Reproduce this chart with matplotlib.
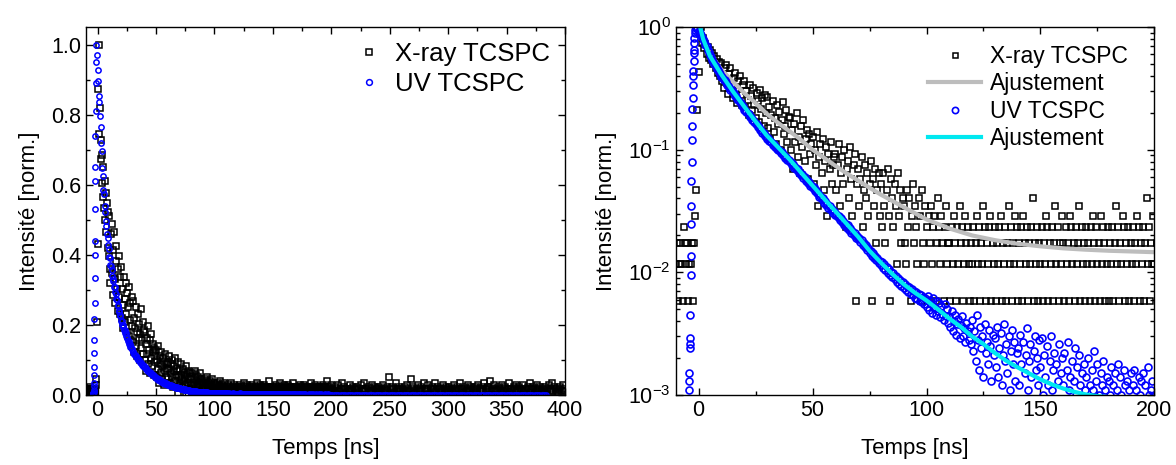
import numpy as np
import matplotlib
matplotlib.use('Agg')
import matplotlib.pyplot as plt
from matplotlib.ticker import MultipleLocator, FormatStrFormatter, LogLocator, NullFormatter

plt.rcParams['font.family'] = ['Liberation Sans', 'DejaVu Sans']
plt.rcParams['mathtext.fontset'] = 'custom'
plt.rcParams['mathtext.rm'] = 'Liberation Sans'
plt.rcParams['mathtext.it'] = 'Liberation Sans:italic'
plt.rcParams['mathtext.default'] = 'regular'

# ---- X-ray TCSPC : counts per bin (peak = 172 counts) ----
xray_peak = 172
# t = -10 ... 200 ns, bins of 0.5 ns
xray_counts_a = [
    2, 3, 1, 2, 3, 2, 1, 4, 3, 2, 3, 1, 2, 2, 3, 1, 3, 5, 8, 36,
    74, 150, 172, 128, 141, 116, 125, 104, 118, 97, 112, 92, 105, 86, 99, 80, 94, 72, 90, 68,
    88, 62, 55, 79, 84, 60, 49, 71, 80, 57, 45, 66, 73, 52, 41, 62, 68, 48, 40, 58,
    63, 38, 52, 44, 33, 58, 47, 36, 55, 40, 31, 50, 43, 29, 53, 37, 45, 27, 48, 34,
    46, 26, 38, 21, 33, 43, 24, 31, 19, 40, 28, 35, 17, 30, 42, 23, 27, 36, 20, 32,
    31, 17, 25, 12, 28, 20, 34, 15, 22, 11, 27, 18, 30, 14, 21, 25, 10, 23, 16, 19,
    22, 9, 17, 13, 24, 6, 15, 19, 11, 21, 8, 14, 18, 5, 16, 12, 20, 9, 13, 15,
    16, 8, 13, 19, 6, 11, 15, 9, 17, 4, 12, 14, 7, 18, 10, 5, 13, 16, 1, 9,
    12, 6, 10, 15, 4, 8, 13, 7, 11, 5, 9, 14, 1, 10, 6, 12, 3, 8, 11, 5,
    9, 4, 11, 6, 3, 8, 12, 5, 1, 10, 7, 4, 9, 6, 2, 11, 5, 8, 3, 7,
    6, 3, 2, 8, 4, 7, 1, 5, 9, 3, 6, 4, 2, 7, 5, 1, 8, 3, 2, 6,
    4, 1, 5, 3, 6, 2, 4, 5, 1, 3, 7, 4, 2, 5, 3, 1, 4, 6, 2, 3,
    3, 1, 4, 2, 5, 3, 1, 4, 2, 6, 3, 4, 1, 2, 5, 3, 4, 2, 1, 3,
    2, 4, 1, 3, 5, 2, 4, 1, 3, 2, 6, 4, 1, 3, 2, 4, 5, 1, 3, 2,
    4, 1, 3, 2, 4, 5, 1, 3, 2, 4, 1, 3, 6, 2, 4, 1, 3, 2, 5, 4,
    1, 3, 2, 4, 1, 5, 3, 2, 4, 1, 3, 2, 4, 7, 1, 3, 2, 4, 1, 3,
    2, 4, 1, 3, 2, 5, 4, 1, 3, 2, 4, 1, 3, 6, 2, 4, 1, 3, 2, 5,
    3, 1, 4, 2, 3, 1, 5, 4, 2, 3, 1, 4, 2, 3, 6, 1, 4, 2, 3, 1,
    4, 2, 3, 1, 4, 2, 5, 3, 1, 4, 2, 3, 1, 5, 2, 4, 3, 1, 2, 4,
    1, 3, 2, 4, 1, 3, 6, 2, 4, 1, 3, 2, 5, 4, 1, 3, 2, 4, 1, 3,
    2, 4, 1, 3, 2, 5, 4, 1, 3, 2, 4, 1, 3, 7, 2, 4, 1, 3, 2, 5,
    2]
# t = 201 ... 400 ns, bins of 1 ns
xray_counts_b = [
    3, 2, 4, 1, 3, 5, 2, 3, 6, 2, 4, 3, 1, 3, 2, 5, 3, 2, 4, 3,
    2, 4, 3, 1, 5, 2, 3, 6, 2, 3, 4, 2, 1, 3, 5, 2, 4, 3, 2, 3,
    4, 2, 3, 5, 1, 3, 2, 4, 9, 3, 2, 4, 3, 1, 6, 2, 3, 4, 2, 3,
    3, 1, 4, 2, 5, 3, 2, 8, 3, 4, 2, 1, 3, 5, 2, 3, 4, 2, 6, 3,
    2, 3, 5, 1, 3, 4, 2, 3, 6, 2, 4, 3, 1, 3, 2, 5, 3, 4, 2, 3,
    4, 2, 3, 1, 5, 3, 2, 4, 3, 6, 2, 3, 1, 4, 2, 3, 5, 2, 3, 4,
    2, 3, 4, 1, 3, 5, 2, 3, 4, 2, 6, 3, 2, 4, 3, 7, 2, 3, 5, 2,
    3, 2, 4, 3, 1, 5, 2, 3, 4, 2, 3, 6, 1, 3, 2, 4, 3, 5, 2, 3,
    4, 3, 2, 5, 1, 3, 2, 4, 3, 6, 2, 3, 4, 1, 3, 5, 2, 3, 4, 2,
    3, 2, 4, 1, 3, 5, 2, 3, 6, 2, 4, 3, 2, 1, 3, 4, 2, 5, 3, 2]

# ---- UV TCSPC : counts per bin (peak = 10000 counts) ----
uv_peak = 10000
uv_rise_t = [-4.2, -4.1, -4.0, -3.9, -3.8, -3.7, -3.6, -3.5, -3.4, -3.3, -3.2, -3.1, -3.0, -2.9,
             -2.8, -2.7, -2.6, -2.5, -2.4, -2.3, -2.2, -2.1, -2.0, -1.9, -1.8, -1.6, -1.4]
uv_rise = [11, 13, 15, 24, 26, 29, 45, 95, 135, 250, 350, 560, 800, 1190,
           1560, 2160, 2630, 3350, 4000, 4400, 5300, 6100, 6500, 7400, 8100, 8900, 9500]
# t = -1 ... 200 ns, bins of 0.5 ns
uv_counts_a = [
    10000, 9700,
    9260, 8950, 8540, 8360, 7950, 7640, 7180, 6950, 6470, 6240, 5860, 5730, 5380, 5230, 4970, 4830, 4580, 4470, 4280, 4160,
    3950, 3920, 3710, 3690, 3560, 3390, 3310, 3250, 3080, 3090, 2930, 2880, 2750, 2720, 2570, 2540, 2430, 2380, 2270, 2250,
    2120, 2110, 2010, 2000, 1950, 1850, 1850, 1760, 1760, 1680, 1630, 1620, 1540, 1530, 1460, 1450, 1380, 1370, 1300, 1300,
    1230, 1240, 1170, 1180, 1150, 1100, 1110, 1050, 1060, 1010, 990, 990, 940, 950, 900, 900, 860, 870, 820, 830,
    790, 790, 750, 760, 710, 720, 680, 690, 650, 650, 620, 630, 590, 600, 560, 570, 540, 545, 510, 520,
    490, 495, 460, 470, 440, 445, 410, 420, 395, 400, 370, 380, 355, 360, 335, 350, 322, 330, 305, 315,
    295, 298, 280, 286, 268, 275, 255, 262, 245, 250, 232, 242, 222, 230, 210, 218, 200, 208, 190, 197,
    186, 190, 176, 182, 168, 175, 160, 166, 152, 158, 145, 150, 137, 144, 131, 137, 125, 131, 119, 124,
    114, 121, 108, 116, 104, 110, 99, 106, 95, 101, 91, 98, 88, 94, 84, 90, 80, 87, 78, 83,
    74, 81, 72, 78, 69, 76, 67, 73, 65, 71, 62, 69, 61, 67, 58, 65, 57, 63, 55, 62,
    52, 64, 49, 60, 55, 47, 62, 51, 45, 58, 48, 56, 43, 53, 46, 41, 55, 44, 50, 39,
    44, 36, 48, 33, 40, 45, 31, 38, 42, 29, 37, 44, 30, 35, 27, 39, 33, 28, 36, 26,
    41, 23, 33, 19, 45, 28, 16, 36, 24, 30, 14, 38, 22, 27, 18, 34, 25, 13, 31, 21,
    29, 17, 36, 14, 24, 32, 12, 21, 38, 19, 26, 15, 30, 11, 23, 34, 18, 27, 13, 22,
    24, 12, 31, 18, 9, 27, 15, 21, 35, 11, 19, 26, 14, 8, 23, 30, 16, 20, 12, 28,
    17, 29, 10, 21, 14, 8, 25, 12, 19, 30, 11, 16, 22, 9, 18, 13, 26, 7, 15, 20,
    12, 22, 9, 16, 27, 11, 14, 8, 19, 13, 24, 10, 17, 7, 21, 12, 15, 9, 18, 11,
    14, 9, 20, 12, 7, 16, 11, 23, 8, 13, 18, 10, 6, 15, 12, 19, 9, 11, 14, 8,
    13, 10, 17, 7, 12, 15, 9, 11, 18, 8, 14, 10, 6, 16, 12, 9, 13, 7, 11, 15,
    9, 12, 16, 8, 11, 7, 14, 10, 13, 6, 15, 9, 12, 8, 17, 10, 7, 11, 13, 9,
    10]
# t = 202 ... 384 ns, bins of 2 ns
uv_counts_b = [
    9, 12, 7, 10, 8, 11, 6, 9, 13, 7, 10, 8, 5, 11, 9, 7, 12, 8, 6, 10,
    9, 7, 11, 5, 8, 10, 6, 9, 12, 7, 8, 10, 5, 9, 7, 11, 6, 8, 10, 7,
    9, 6, 8, 11, 5, 7, 10, 8, 6, 9, 7, 12, 5, 8, 9, 6, 10, 7, 8, 5,
    9, 11, 6, 8, 7, 10, 5, 9, 8, 6, 11, 7, 9, 5, 8, 10, 6, 7, 9, 8,
    5, 10, 7, 6, 9, 8, 11, 6, 7, 9, 5, 8]

# ---- fits (Ajustement) ----
fit_xray_t = [0.7, 2, 5, 10, 15, 20, 25, 30, 35, 40, 45, 50, 55, 60, 65, 70, 75, 80, 90, 100,
              110, 120, 130, 140, 150, 160, 170, 180, 190, 200]
fit_xray = [0.92, 0.76, 0.61, 0.45, 0.36, 0.29, 0.24, 0.196, 0.165, 0.141, 0.12, 0.10, 0.086, 0.074,
            0.064, 0.056, 0.049, 0.043, 0.034, 0.027, 0.0228, 0.0200, 0.0183, 0.0171, 0.0163,
            0.0157, 0.0153, 0.0150, 0.0148, 0.0146]
fit_uv_t = [0.7, 2, 5, 10, 15, 20, 25, 30, 35, 40, 45, 50, 55, 60, 65, 70, 75, 80, 85, 90, 95, 100,
            105, 110, 115, 120, 125, 130, 135, 140, 145, 150, 155, 160, 165, 170, 175, 180, 190, 200]
fit_uv = [1.0, 0.80, 0.58, 0.41, 0.30, 0.225, 0.170, 0.130, 0.104, 0.083, 0.065, 0.051, 0.040, 0.0315,
          0.0248, 0.0195, 0.0150, 0.0120, 0.0097, 0.0080, 0.0068, 0.0059, 0.0050, 0.0042, 0.0036,
          0.0030, 0.0026, 0.0022, 0.0019, 0.00168, 0.0015, 0.00134, 0.00122, 0.00113, 0.00106,
          0.00101, 0.00098, 0.00096, 0.00093, 0.00092]


def build_series():
    xray_t = np.concatenate([np.arange(-10, 200.25, 0.5), np.arange(201, 401, 1)])
    xray_y = np.array(xray_counts_a + xray_counts_b, dtype=float) / xray_peak
    uv_t = np.concatenate([uv_rise_t, np.arange(-1, 200.25, 0.5), np.arange(202, 385, 2)])
    uv_y = np.array(uv_rise + uv_counts_a + uv_counts_b, dtype=float) / uv_peak
    return xray_t, xray_y, uv_t, uv_y


def style_axis(ax):
    ax.tick_params(which='both', direction='in', top=True, right=True, labelsize=15.5, width=1)
    ax.tick_params(which='major', length=5)
    ax.tick_params(which='minor', length=3)
    for sp in ax.spines.values():
        sp.set_linewidth(1)
    ax.set_xlabel('Temps [ns]', fontsize=16, labelpad=12)
    ax.set_ylabel('Intensité [norm.]', fontsize=16, labelpad=8)


xray_t, xray_y, uv_t, uv_y = build_series()

fig = plt.figure(figsize=(11.76, 4.65), dpi=100)
ax1 = fig.add_axes([0.0731, 0.1505, 0.4073, 0.7914])
ax2 = fig.add_axes([0.5746, 0.1505, 0.4071, 0.7914])

# linear panel
ax1.plot(xray_t, xray_y, 's', ms=3.8, mfc='none', mec='black', mew=1.1, label='X-ray TCSPC')
ax1.plot(uv_t, uv_y, 'o', ms=3.8, mfc='none', mec='#0000ff', mew=1.1, label='UV TCSPC')
ax1.set_xlim(-10, 400)
ax1.set_ylim(0, 1.05)
ax1.xaxis.set_major_locator(MultipleLocator(50))
ax1.xaxis.set_minor_locator(MultipleLocator(25))
ax1.yaxis.set_major_locator(MultipleLocator(0.2))
ax1.yaxis.set_minor_locator(MultipleLocator(0.1))
ax1.yaxis.set_major_formatter(FormatStrFormatter('%.1f'))
style_axis(ax1)
ax1.legend(loc='upper right', bbox_to_anchor=(1.0, 1.0), frameon=False, fontsize=18.5,
           numpoints=1, markerscale=1.1, handlelength=1.2, handletextpad=0.4,
           borderaxespad=0.2, labelspacing=0.22)

# log panel
ax2.plot(xray_t, xray_y, 's', ms=4.0, mfc='none', mec='black', mew=1.1, label='X-ray TCSPC')
ax2.plot(fit_xray_t, fit_xray, '-', color='#bdbdbd', lw=3, label='Ajustement')
ax2.plot(uv_t, uv_y, 'o', ms=5.0, mfc='none', mec='#0000ff', mew=1.2, label='UV TCSPC')
ax2.plot(fit_uv_t, fit_uv, '-', color='#00e8f0', lw=3, label='Ajustement')
ax2.set_yscale('log')
ax2.set_xlim(-10, 200)
ax2.set_ylim(1e-3, 1)
ax2.xaxis.set_major_locator(MultipleLocator(50))
ax2.xaxis.set_minor_locator(MultipleLocator(25))
ax2.yaxis.set_major_locator(LogLocator(base=10, numticks=10))
ax2.yaxis.set_minor_locator(LogLocator(base=10, subs=np.arange(2, 10), numticks=10))
ax2.yaxis.set_minor_formatter(NullFormatter())
style_axis(ax2)
ax2.legend(loc='upper right', bbox_to_anchor=(0.983, 1.0), frameon=False, fontsize=16.5,
           numpoints=1, markerscale=0.9, handlelength=2.3, handletextpad=0.4,
           borderaxespad=0.4, labelspacing=0.18)

fig.savefig('out.png', dpi=100)
